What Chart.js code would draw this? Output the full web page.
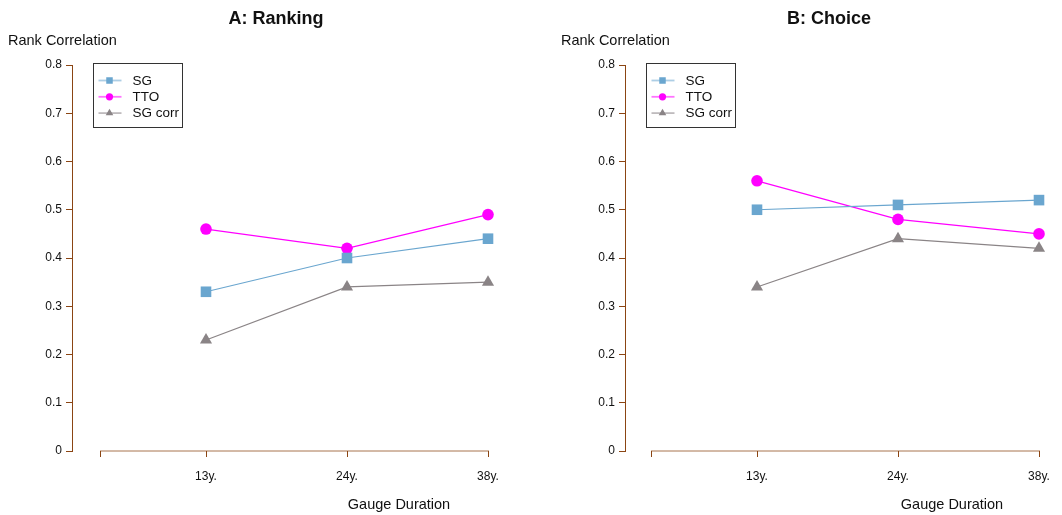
<!DOCTYPE html>
<html>
<head>
<meta charset="utf-8">
<script src="https://cdn.jsdelivr.net/npm/chart.js@4.4.1/dist/chart.umd.min.js"></script>
<style>
  html, body { margin: 0; padding: 0; background: #fff; }
  #wrap { position: relative; width: 1062px; height: 515px; }
  canvas { position: absolute; top: 0; }
  #panelA { left: 0; }
  #panelB { left: 531px; }
</style>
</head>
<body>
<div id="wrap">
  <canvas id="panelA" width="531" height="515"></canvas>
  <canvas id="panelB" width="531" height="515"></canvas>
</div>
<script>
// Gauge durations on the x axis
const categories = ['13y.', '24y.', '38y.'];
const yTicks = [0, 0.1, 0.2, 0.3, 0.4, 0.5, 0.6, 0.7, 0.8];

// Panel A: ranking task
const rankingSG     = [0.33, 0.40, 0.44];
const rankingTTO    = [0.46, 0.42, 0.49];
const rankingSGcorr = [0.23, 0.34, 0.35];

// Panel B: choice task
const choiceSG     = [0.50, 0.51, 0.52];
const choiceTTO    = [0.56, 0.48, 0.45];
const choiceSGcorr = [0.34, 0.44, 0.42];

const seriesNames = ['SG', 'TTO', 'SG corr'];

const FONT = '"Liberation Sans", Arial, Helvetica, sans-serif';
const AXIS_COLOR = '#8b4513';
const COLORS = { SG: '#6aa6cf', TTO: '#ff00ff', 'SG corr': '#8a8486' };
const STYLES = { SG: 'rect', TTO: 'circle', 'SG corr': 'triangle' };
const RADII  = { SG: 7.5, TTO: 5.8, 'SG corr': 7 };

function toPoints(values) {
  return values.map((v, i) => ({ x: i + 1, y: v }));
}

function makeDataset(name, values) {
  return {
    label: name,
    data: toPoints(values),
    borderColor: COLORS[name],
    backgroundColor: COLORS[name],
    pointBackgroundColor: COLORS[name],
    pointBorderColor: COLORS[name],
    pointBorderWidth: 0,
    borderWidth: 1.2,
    pointStyle: STYLES[name],
    pointRadius: RADII[name],
    pointHoverRadius: RADII[name],
    tension: 0,
    clip: false
  };
}

// Draws the axis line across the category range, the panel texts and the legend box
const panelDecor = {
  id: 'panelDecor',
  afterDraw(chart, args, opts) {
    const ctx = chart.ctx;
    const xs = chart.scales.x;
    const area = chart.chartArea;
    ctx.save();

    // x axis line from the first to the last tick
    ctx.strokeStyle = AXIS_COLOR;
    ctx.globalAlpha = 0.75;
    ctx.lineWidth = 1;
    ctx.beginPath();
    ctx.moveTo(Math.round(xs.getPixelForValue(0.25)), area.bottom);
    ctx.lineTo(Math.round(xs.getPixelForValue(3)) + 1, area.bottom);
    ctx.stroke();
    ctx.globalAlpha = 1;

    // texts
    ctx.fillStyle = '#111';
    ctx.textBaseline = 'middle';
    ctx.textAlign = 'center';
    ctx.font = 'bold 18px ' + FONT;
    ctx.fillText(opts.title, area.left + 204, 19);

    ctx.font = '14.5px ' + FONT;
    ctx.textAlign = 'left';
    ctx.fillText('Rank Correlation', area.left - 64, 41);

    ctx.textAlign = 'center';
    ctx.fillText('Gauge Duration', area.left + 327, 505);

    // legend
    const bx = area.left + 21.5, by = 63.5, bw = 89, bh = 64;
    ctx.strokeStyle = '#333';
    ctx.lineWidth = 1;
    ctx.strokeRect(bx, by, bw, bh);
    ctx.font = '13.5px ' + FONT;
    ctx.textAlign = 'left';
    chart.data.datasets.forEach((ds, i) => {
      const cy = by + 17 + i * 16.3;
      ctx.globalAlpha = 0.55;
      ctx.strokeStyle = ds.borderColor;
      ctx.lineWidth = 1.8;
      ctx.beginPath();
      ctx.moveTo(bx + 5, cy);
      ctx.lineTo(bx + 28, cy);
      ctx.stroke();
      ctx.globalAlpha = 1;
      ctx.fillStyle = ds.backgroundColor;
      Chart.helpers.drawPoint(ctx, {
        pointStyle: ds.pointStyle,
        radius: ds.pointStyle === 'rect' ? 4.6 : (ds.pointStyle === 'circle' ? 3.6 : 4.4),
        borderWidth: 0
      }, bx + 16, cy);
      ctx.fillStyle = '#111';
      ctx.fillText(ds.label, bx + 39, cy + 0.5);
    });
    ctx.restore();
  }
};

function makeChart(canvasId, title, sg, tto, sgcorr, leftW, rightPad) {
  const xMin = 3 - (531 - rightPad - leftW) / 141;
  return new Chart(document.getElementById(canvasId), {
    type: 'line',
    data: {
      datasets: [
        makeDataset(seriesNames[0], sg),
        makeDataset(seriesNames[1], tto),
        makeDataset(seriesNames[2], sgcorr)
      ]
    },
    options: {
      responsive: false,
      animation: false,
      events: [],
      layout: { padding: { top: 65, right: rightPad, left: 0, bottom: 0 } },
      plugins: {
        legend: { display: false },
        title: { display: false },
        tooltip: { enabled: false },
        panelDecor: { title: title }
      },
      scales: {
        x: {
          type: 'linear',
          min: xMin,
          max: 3,
          afterFit(scale) { scale.height = 64; },
          afterBuildTicks(scale) {
            scale.ticks = [0.25, 1, 2, 3].map(v => ({ value: v }));
          },
          border: { display: false },
          grid: {
            drawOnChartArea: false,
            drawTicks: true,
            tickLength: 6,
            color: AXIS_COLOR
          },
          ticks: {
            autoSkip: false,
            maxRotation: 0,
            padding: 12,
            color: '#111',
            font: { family: FONT, size: 12 },
            callback(v) {
              const idx = Math.round(v) - 1;
              return Number.isInteger(v) && categories[idx] ? categories[idx] : '';
            }
          }
        },
        y: {
          min: 0,
          max: 0.8,
          afterFit(scale) { scale.width = leftW; },
          afterBuildTicks(scale) {
            scale.ticks = yTicks.map(v => ({ value: v }));
          },
          border: { display: true, color: AXIS_COLOR, width: 1 },
          grid: {
            drawOnChartArea: false,
            drawTicks: true,
            tickLength: 6,
            color: AXIS_COLOR
          },
          ticks: {
            padding: 4,
            color: '#111',
            font: { family: FONT, size: 12 },
            callback(v) { return v === 0 ? '0' : v.toFixed(1); }
          }
        }
      }
    },
    plugins: [panelDecor]
  });
}

makeChart('panelA', 'A: Ranking', rankingSG, rankingTTO, rankingSGcorr, 72, 43);
makeChart('panelB', 'B: Choice', choiceSG, choiceTTO, choiceSGcorr, 94, 23);
</script>
</body>
</html>
